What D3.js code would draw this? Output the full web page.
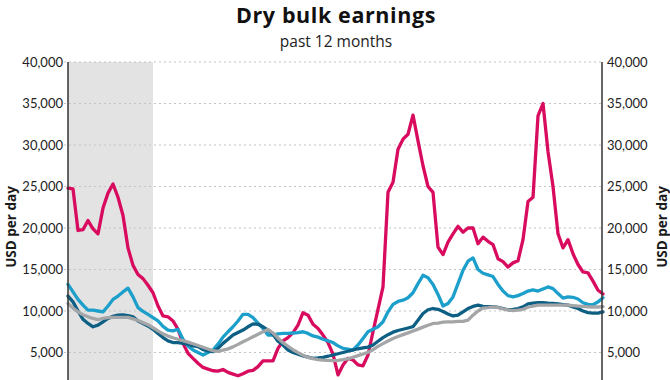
<!DOCTYPE html>
<html>
<head>
<meta charset="utf-8">
<script src="https://cdn.jsdelivr.net/npm/d3@7"></script>
<style>
  html, body { margin: 0; padding: 0; background: #fff; }
  svg { display: block; font-family: Lato, "Open Sans", sans-serif; }
</style>
</head>
<body>
<svg id="chart" width="670" height="380"></svg>
<script>
// ---- data (USD per day) ----
const title = "Dry bulk earnings";
const subtitle = "past 12 months";
const yAxisLabel = "USD per day";
const yTicks = [5000, 10000, 15000, 20000, 25000, 30000, 35000, 40000];
const yTickLabels = ["5,000", "10,000", "15,000", "20,000", "25,000", "30,000", "35,000", "40,000"];
const shadedPeriod = [0, 17]; // index range of the shaded period

const capesize = [24800,24700,19700,19800,20900,19900,19300,22400,24200,25300,23700,21500,17600,15500,14400,13900,13100,12200,10600,9400,9300,8800,7800,6100,4900,4300,3700,3200,3000,2800,2750,2950,2600,2400,2200,2450,2750,2850,3300,4000,4000,4000,5500,6400,6800,7400,8300,9800,9500,8400,7900,7100,6200,4800,2300,3500,4300,4100,3500,3400,4700,7500,10200,12900,24300,25500,29500,30700,31300,33600,30500,27500,25000,24300,17700,16800,18300,19300,20200,19500,20000,20000,18100,18900,18400,18000,16300,15950,15300,15800,16050,18600,23200,23700,33500,35000,29200,25000,19300,17600,18600,16900,15600,14700,14600,13600,12500,12050];
const panamax = [13200,12300,11400,10700,10100,10100,10000,9900,10600,11400,11800,12300,12750,11700,10400,9950,9600,9200,8800,8150,7700,7600,7800,6600,5800,5300,5000,4700,5000,5300,6000,6850,7500,8100,8800,9600,9600,9200,8550,7900,7100,7100,7250,7300,7300,7350,7400,7500,7300,7000,6850,6600,6400,6200,5800,5500,5400,5300,5900,6700,7500,7800,8100,8700,9900,10800,11150,11300,11600,12200,13300,14300,14000,13200,12000,10600,10900,11700,13300,14900,16000,16400,15000,14550,14350,14150,13200,12400,11850,11700,11850,12100,12400,12550,12400,12650,12900,12700,12100,11550,11700,11650,11450,11000,10800,10750,11100,11600];
const supramax = [11800,11100,10000,9000,8500,8100,8300,8700,9100,9350,9500,9520,9450,9300,8800,8500,8200,7800,7300,6800,6400,6200,6200,6100,6000,5800,5700,5350,5200,5100,5500,6100,6600,7100,7400,7700,8100,8450,8400,8100,7700,7200,6350,5900,5300,5000,4800,4600,4450,4300,4350,4420,4550,4700,4850,5000,5150,5300,5450,5550,5650,5900,6350,6800,7150,7450,7650,7800,7950,8110,8900,9700,10150,10300,10200,9950,9650,9400,9500,9900,10300,10550,10700,10550,10520,10520,10450,10300,10150,10200,10300,10500,10850,10950,11000,11000,10950,10930,10850,10780,10700,10500,10300,10000,9800,9750,9750,9900];
const handysize = [10900,10350,9900,9550,9300,9100,8950,9100,9200,9230,9240,9240,9230,9050,8850,8600,8350,7980,7600,7250,6980,6780,6600,6420,6250,6050,5850,5630,5420,5220,5130,5280,5440,5680,5980,6290,6580,6890,7190,7500,7780,7350,6750,6180,5750,5330,4980,4660,4400,4260,4140,4080,4040,4010,4060,4130,4230,4430,4620,4820,5020,5340,5740,6070,6380,6690,6920,7150,7370,7600,7820,8060,8280,8500,8550,8650,8700,8700,8750,8750,8900,9500,10000,10350,10400,10500,10400,10250,10130,10050,10100,10200,10450,10600,10700,10700,10700,10700,10700,10700,10700,10650,10600,10550,10500,10480,10480,10520];

const seriesNames = ["Capesize", "Panamax", "Supramax", "Handysize"];
const seriesColors = ["#d80b5f", "#1c9fcb", "#0e5f84", "#a3a5a7"];
const seriesValues = [capesize, panamax, supramax, handysize];

// ---- drawing ----
const svg = d3.select("#chart");
const plotLeft = 68, plotRight = 602, plotTop = 62, plotBottom = 394;
const N = capesize.length;

const x = d3.scaleLinear().domain([0, N - 1]).range([plotLeft, plotRight + 1]);
const y = d3.scaleLinear().domain([0, 40000]).range([plotBottom, plotTop]);

// shaded period
svg.append("rect")
  .attr("x", x(shadedPeriod[0]))
  .attr("y", y(40000))
  .attr("width", x(shadedPeriod[1]) - x(shadedPeriod[0]))
  .attr("height", y(0) - y(40000))
  .attr("fill", "#e3e3e3");

// gridlines
svg.append("g").selectAll("line").data(yTicks).join("line")
  .attr("x1", plotLeft - 4).attr("x2", plotRight)
  .attr("y1", d => y(d)).attr("y2", d => y(d))
  .attr("stroke", "#c4c4c4").attr("stroke-width", 1.2)
  .attr("stroke-dasharray", "2,3");

// axes (labels)
const fmt = v => yTickLabels[yTicks.indexOf(v)];
const leftAxis = d3.axisLeft(y).tickValues(yTicks).tickFormat(fmt).tickSize(0).tickPadding(5);
const gl = svg.append("g").attr("transform", `translate(${plotLeft},0)`).call(leftAxis);
const rightAxis = d3.axisRight(y).tickValues(yTicks).tickFormat(fmt).tickSize(0).tickPadding(5);
const gr = svg.append("g").attr("transform", `translate(${plotRight},0)`).call(rightAxis);
[gl, gr].forEach(g => {
  g.select(".domain").remove();
  g.selectAll("text").attr("font-family", "Lato, sans-serif").attr("font-size", 13).attr("fill", "#222");
});

// lines
const line = d3.line().x((d, i) => x(i)).y(d => y(d));
svg.append("g").selectAll("path").data(seriesValues).join("path")
  .attr("d", d => line(d))
  .attr("fill", "none")
  .attr("stroke", (d, i) => seriesColors[i])
  .attr("stroke-width", 3.3)
  .attr("stroke-linejoin", "round")
  .attr("stroke-linecap", "round");

// axis lines
[plotLeft, plotRight].forEach(px => {
  svg.append("line")
    .attr("x1", px).attr("x2", px)
    .attr("y1", y(40000)).attr("y2", y(0))
    .attr("stroke", "#333").attr("stroke-width", 1.5);
});

// axis titles
[15.5, 667].forEach(px => {
  svg.append("text")
    .attr("transform", `translate(${px},227) rotate(-90)`)
    .attr("text-anchor", "middle")
    .attr("font-family", "'Open Sans', sans-serif")
    .attr("font-weight", "bold").attr("font-size", 13.5).attr("fill", "#1a1a1a")
    .text(yAxisLabel);
});

// title
svg.append("text")
  .attr("x", 336).attr("y", 23)
  .attr("text-anchor", "middle")
  .attr("font-family", "'Open Sans', sans-serif")
  .attr("font-weight", "bold").attr("font-size", 21.5)
  .attr("letter-spacing", 0.6).attr("fill", "#111")
  .text(title);
svg.append("text")
  .attr("x", 336).attr("y", 46.5)
  .attr("text-anchor", "middle")
  .attr("font-family", "'Open Sans', sans-serif")
  .attr("font-size", 15.5).attr("fill", "#222")
  .text(subtitle);
</script>
</body>
</html>
